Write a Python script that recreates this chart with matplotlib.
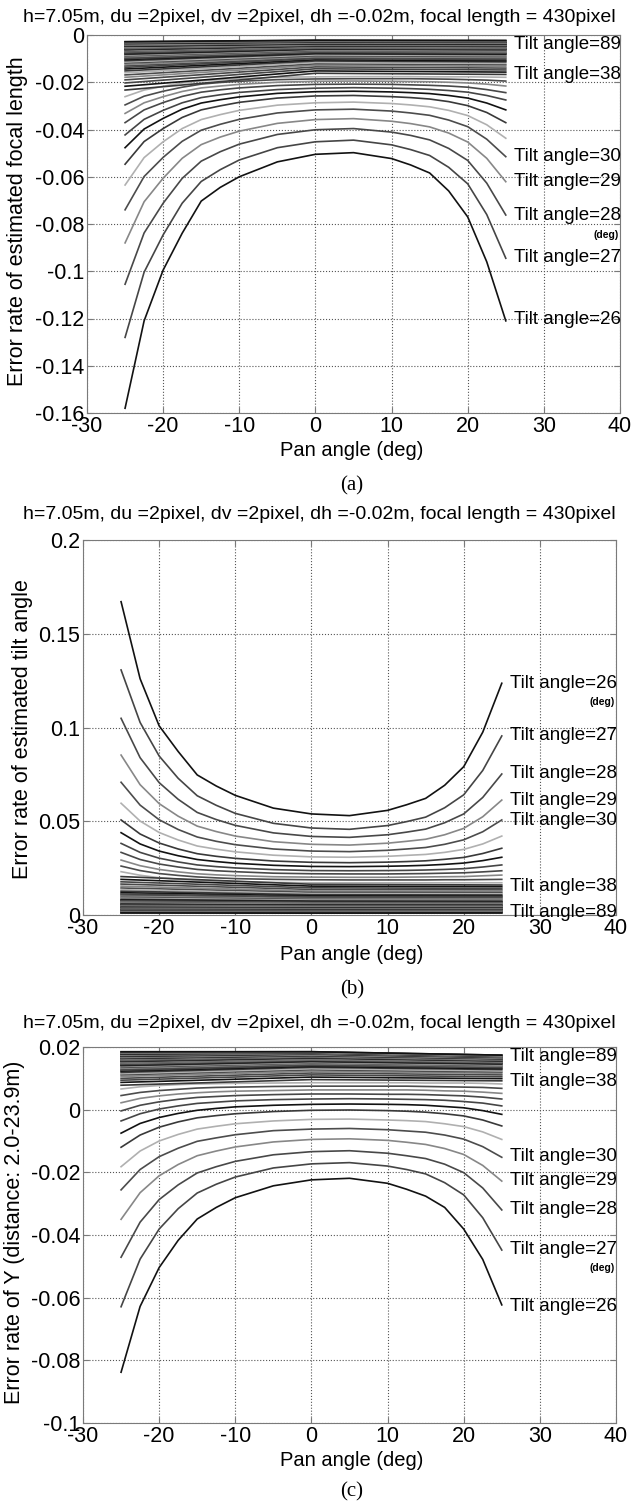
import matplotlib.pyplot as plt

plt.rcParams['font.family'] = ['Liberation Sans', 'DejaVu Sans']
plt.rcParams['axes.unicode_minus'] = False

## pan angles sampled for the distinct curves (tilt 26..38) and for the dense band (tilt 39..89)
pan = [-25, -22.5, -20, -17.5, -15, -12.5, -10, -5, 0, 5, 10, 12.5, 15, 17.5, 20, 22.5, 25]
pan_band = [-25, 0, 25]
tilt_main = list(range(26, 39))
tilt_band = list(range(39, 90))

## (a) error rate of estimated focal length
focal_main = [
    [-0.158, -0.121, -0.0995, -0.0839, -0.0703, -0.0645, -0.0600, -0.0537, -0.0505, -0.0498, -0.0523, -0.0550, -0.0584, -0.0660, -0.0770, -0.0960, -0.1210],
    [-0.128, -0.1004, -0.0846, -0.0712, -0.0620, -0.0570, -0.0529, -0.0477, -0.0452, -0.0445, -0.0465, -0.0485, -0.0510, -0.0560, -0.0630, -0.0760, -0.0945],
    [-0.1055, -0.0838, -0.0712, -0.0607, -0.0534, -0.0494, -0.0462, -0.0421, -0.0401, -0.0396, -0.0411, -0.0425, -0.0444, -0.0480, -0.0531, -0.0627, -0.0762],
    [-0.088, -0.0706, -0.0606, -0.0522, -0.0464, -0.0432, -0.0407, -0.0374, -0.0358, -0.0354, -0.0365, -0.0375, -0.0389, -0.0415, -0.0453, -0.0522, -0.0621],
    [-0.074, -0.0599, -0.0518, -0.0450, -0.0403, -0.0378, -0.0357, -0.0330, -0.0317, -0.0314, -0.0322, -0.0330, -0.0340, -0.0360, -0.0388, -0.0441, -0.0515],
    [-0.0635, -0.0519, -0.0452, -0.0396, -0.0358, -0.0337, -0.0319, -0.0297, -0.0287, -0.0284, -0.0290, -0.0296, -0.0304, -0.0319, -0.0341, -0.0380, -0.0437],
    [-0.0547, -0.0451, -0.0396, -0.0349, -0.0317, -0.0300, -0.0285, -0.0267, -0.0258, -0.0256, -0.0261, -0.0265, -0.0271, -0.0282, -0.0299, -0.0328, -0.0371],
    [-0.0477, -0.0398, -0.0353, -0.0314, -0.0288, -0.0274, -0.0262, -0.0247, -0.0240, -0.0238, -0.0241, -0.0244, -0.0248, -0.0256, -0.0267, -0.0288, -0.0317],
    [-0.0423, -0.0357, -0.0319, -0.0287, -0.0265, -0.0253, -0.0243, -0.0231, -0.0225, -0.0223, -0.0225, -0.0227, -0.0230, -0.0235, -0.0242, -0.0256, -0.0275],
    [-0.0371, -0.0317, -0.0286, -0.0260, -0.0242, -0.0232, -0.0224, -0.0214, -0.0209, -0.0208, -0.0209, -0.0211, -0.0213, -0.0216, -0.0221, -0.0231, -0.0244],
    [-0.0332, -0.0287, -0.0261, -0.0239, -0.0224, -0.0216, -0.0209, -0.0200, -0.0196, -0.0195, -0.0196, -0.0197, -0.0198, -0.0200, -0.0203, -0.0208, -0.0216],
    [-0.0296, -0.0259, -0.0238, -0.0221, -0.0208, -0.0201, -0.0196, -0.0189, -0.0186, -0.0185, -0.0185, -0.0185, -0.0186, -0.0187, -0.0189, -0.0191, -0.0195],
    [-0.0261, -0.0233, -0.0217, -0.0203, -0.0194, -0.0189, -0.0185, -0.0179, -0.0177, -0.0176, -0.0176, -0.0176, -0.0177, -0.0177, -0.0177, -0.0178, -0.0179],
]
focal_band_left = [-0.0233, -0.0217, -0.0203, -0.0190, -0.0179, -0.0169, -0.0160, -0.0152, -0.0144, -0.0137,
                   -0.0131, -0.0125, -0.0119, -0.0114, -0.0109, -0.0104, -0.0100, -0.0096, -0.0092, -0.0088,
                   -0.0085, -0.0082, -0.0079, -0.0076, -0.0073, -0.0070, -0.0068, -0.0065, -0.0063, -0.0061,
                   -0.0059, -0.0057, -0.0055, -0.0053, -0.0051, -0.0049, -0.0047, -0.0045, -0.0044, -0.0042,
                   -0.0040, -0.0039, -0.0037, -0.0036, -0.0034, -0.0033, -0.0032, -0.0031, -0.0030, -0.0029,
                   -0.0028]
focal_band_mid = [-0.0162, -0.0152, -0.0143, -0.0135, -0.0128, -0.0122, -0.0116, -0.0110, -0.0105, -0.0100,
                  -0.0096, -0.0092, -0.0088, -0.0084, -0.0080, -0.0077, -0.0074, -0.0071, -0.0068, -0.0066,
                  -0.0063, -0.0061, -0.0059, -0.0057, -0.0055, -0.0053, -0.0051, -0.0049, -0.0048, -0.0046,
                  -0.0045, -0.0043, -0.0042, -0.0040, -0.0039, -0.0038, -0.0037, -0.0035, -0.0034, -0.0033,
                  -0.0032, -0.0031, -0.0030, -0.0029, -0.0028, -0.0027, -0.0026, -0.0025, -0.0024, -0.0023,
                  -0.0022]
focal_band_right = [-0.0167, -0.0157, -0.0148, -0.0140, -0.0133, -0.0126, -0.0120, -0.0114, -0.0109, -0.0104,
                    -0.0099, -0.0095, -0.0091, -0.0087, -0.0083, -0.0080, -0.0077, -0.0074, -0.0071, -0.0068,
                    -0.0066, -0.0063, -0.0061, -0.0059, -0.0057, -0.0055, -0.0053, -0.0051, -0.0049, -0.0048,
                    -0.0046, -0.0045, -0.0043, -0.0042, -0.0040, -0.0039, -0.0038, -0.0036, -0.0035, -0.0034,
                    -0.0033, -0.0032, -0.0031, -0.0030, -0.0029, -0.0028, -0.0027, -0.0026, -0.0025, -0.0024,
                    -0.0023]

## (b) error rate of estimated tilt angle
tilt_err_main = [
    [0.1671, 0.1260, 0.1009, 0.0872, 0.0747, 0.0688, 0.0638, 0.0570, 0.0539, 0.0530, 0.0558, 0.0588, 0.0622, 0.0692, 0.0791, 0.0975, 0.1236],
    [0.1307, 0.1027, 0.0848, 0.0729, 0.0636, 0.0585, 0.0542, 0.0489, 0.0464, 0.0457, 0.0477, 0.0498, 0.0522, 0.0572, 0.0641, 0.0771, 0.0955],
    [0.1049, 0.0839, 0.0706, 0.0617, 0.0547, 0.0509, 0.0478, 0.0438, 0.0419, 0.0414, 0.0428, 0.0442, 0.0458, 0.0492, 0.0539, 0.0627, 0.0752],
    [0.0853, 0.0695, 0.0594, 0.0527, 0.0474, 0.0445, 0.0421, 0.0391, 0.0377, 0.0373, 0.0383, 0.0393, 0.0404, 0.0428, 0.0462, 0.0524, 0.0613],
    [0.0708, 0.0586, 0.0508, 0.0456, 0.0416, 0.0393, 0.0375, 0.0352, 0.0341, 0.0338, 0.0345, 0.0352, 0.0360, 0.0377, 0.0401, 0.0444, 0.0507],
    [0.0596, 0.0501, 0.0440, 0.0400, 0.0368, 0.0351, 0.0337, 0.0319, 0.0310, 0.0308, 0.0313, 0.0318, 0.0323, 0.0334, 0.0350, 0.0379, 0.0421],
    [0.0507, 0.0432, 0.0384, 0.0352, 0.0327, 0.0313, 0.0302, 0.0288, 0.0281, 0.0279, 0.0282, 0.0285, 0.0289, 0.0297, 0.0307, 0.0328, 0.0356],
    [0.0439, 0.0379, 0.0341, 0.0316, 0.0296, 0.0285, 0.0276, 0.0265, 0.0259, 0.0258, 0.0260, 0.0262, 0.0265, 0.0270, 0.0277, 0.0290, 0.0308],
    [0.0382, 0.0334, 0.0303, 0.0283, 0.0267, 0.0258, 0.0251, 0.0242, 0.0237, 0.0236, 0.0237, 0.0238, 0.0240, 0.0243, 0.0247, 0.0256, 0.0267],
    [0.0334, 0.0296, 0.0272, 0.0256, 0.0243, 0.0236, 0.0231, 0.0223, 0.0220, 0.0219, 0.0219, 0.0220, 0.0221, 0.0223, 0.0225, 0.0230, 0.0236],
    [0.0293, 0.0263, 0.0243, 0.0230, 0.0220, 0.0214, 0.0210, 0.0204, 0.0202, 0.0201, 0.0201, 0.0202, 0.0203, 0.0204, 0.0205, 0.0209, 0.0213],
    [0.0261, 0.0237, 0.0221, 0.0211, 0.0203, 0.0198, 0.0194, 0.0190, 0.0188, 0.0187, 0.0187, 0.0187, 0.0187, 0.0188, 0.0188, 0.0189, 0.0190],
    [0.0231, 0.0212, 0.0199, 0.0191, 0.0184, 0.0181, 0.0178, 0.0174, 0.0172, 0.0172, 0.0172, 0.0172, 0.0172, 0.0172, 0.0172, 0.0172, 0.0172],
]
tilt_err_band_left = [0.0205, 0.0190, 0.0177, 0.0165, 0.0154, 0.0144, 0.0135, 0.0127, 0.0119, 0.0112,
                      0.0106, 0.0100, 0.0094, 0.0089, 0.0084, 0.0080, 0.0076, 0.0072, 0.0068, 0.0065,
                      0.0062, 0.0059, 0.0056, 0.0053, 0.0051, 0.0048, 0.0046, 0.0044, 0.0042, 0.0040,
                      0.0038, 0.0036, 0.0034, 0.0033, 0.0031, 0.0030, 0.0028, 0.0027, 0.0025, 0.0024,
                      0.0023, 0.0021, 0.0020, 0.0019, 0.0018, 0.0017, 0.0015, 0.0014, 0.0013, 0.0012,
                      0.0011]
tilt_err_band_mid = [0.0164, 0.0154, 0.0145, 0.0136, 0.0128, 0.0121, 0.0114, 0.0108, 0.0102, 0.0097,
                     0.0092, 0.0087, 0.0083, 0.0079, 0.0075, 0.0071, 0.0068, 0.0065, 0.0062, 0.0059,
                     0.0056, 0.0054, 0.0051, 0.0049, 0.0047, 0.0045, 0.0043, 0.0041, 0.0039, 0.0037,
                     0.0035, 0.0034, 0.0032, 0.0031, 0.0029, 0.0028, 0.0026, 0.0025, 0.0024, 0.0022,
                     0.0021, 0.0020, 0.0019, 0.0018, 0.0017, 0.0016, 0.0014, 0.0013, 0.0012, 0.0011,
                     0.0010]
tilt_err_band_right = [0.0160, 0.0151, 0.0142, 0.0134, 0.0126, 0.0119, 0.0113, 0.0107, 0.0101, 0.0096,
                       0.0091, 0.0086, 0.0082, 0.0078, 0.0074, 0.0071, 0.0067, 0.0064, 0.0061, 0.0058,
                       0.0056, 0.0053, 0.0051, 0.0049, 0.0047, 0.0045, 0.0043, 0.0041, 0.0039, 0.0037,
                       0.0035, 0.0034, 0.0032, 0.0031, 0.0029, 0.0028, 0.0027, 0.0025, 0.0024, 0.0023,
                       0.0022, 0.0021, 0.0019, 0.0018, 0.0017, 0.0016, 0.0015, 0.0014, 0.0013, 0.0012,
                       0.0011]

## (c) error rate of Y
y_err_main = [
    [-0.0838, -0.0628, -0.0504, -0.0417, -0.0349, -0.0312, -0.0281, -0.0243, -0.0224, -0.0219, -0.0235, -0.0254, -0.0276, -0.0312, -0.0381, -0.0478, -0.0623],
    [-0.0629, -0.0477, -0.0381, -0.0316, -0.0266, -0.0238, -0.0215, -0.0186, -0.0173, -0.0169, -0.0180, -0.0191, -0.0205, -0.0233, -0.0272, -0.0345, -0.0448],
    [-0.0471, -0.0359, -0.0287, -0.0240, -0.0202, -0.0182, -0.0165, -0.0144, -0.0134, -0.0131, -0.0139, -0.0147, -0.0156, -0.0174, -0.0201, -0.0250, -0.0320],
    [-0.0350, -0.0265, -0.0211, -0.0175, -0.0147, -0.0132, -0.0119, -0.0103, -0.0095, -0.0093, -0.0098, -0.0104, -0.0111, -0.0124, -0.0143, -0.0178, -0.0228],
    [-0.0256, -0.0191, -0.0150, -0.0123, -0.0101, -0.0090, -0.0080, -0.0067, -0.0062, -0.0060, -0.0064, -0.0068, -0.0072, -0.0081, -0.0094, -0.0118, -0.0152],
    [-0.0182, -0.0132, -0.0100, -0.0079, -0.0062, -0.0053, -0.0045, -0.0036, -0.0031, -0.0030, -0.0033, -0.0035, -0.0038, -0.0045, -0.0054, -0.0071, -0.0095],
    [-0.0120, -0.0081, -0.0056, -0.0039, -0.0026, -0.0019, -0.0013, -0.0006, -0.0002, -0.0001, -0.0003, -0.0005, -0.0008, -0.0013, -0.0020, -0.0033, -0.0052],
    [-0.0075, -0.0044, -0.0025, -0.0012, -0.0002, 0.0004, 0.0009, 0.0014, 0.0017, 0.0018, 0.0017, 0.0016, 0.0014, 0.0010, 0.0006, -0.0003, -0.0015],
    [-0.0036, -0.0013, 0.0002, 0.0012, 0.0020, 0.0024, 0.0028, 0.0032, 0.0034, 0.0035, 0.0034, 0.0033, 0.0032, 0.0030, 0.0026, 0.0021, 0.0012],
    [-0.0004, 0.0014, 0.0025, 0.0033, 0.0039, 0.0042, 0.0045, 0.0048, 0.0050, 0.0050, 0.0049, 0.0049, 0.0048, 0.0046, 0.0044, 0.0040, 0.0034],
    [0.0022, 0.0036, 0.0044, 0.0050, 0.0054, 0.0057, 0.0059, 0.0061, 0.0063, 0.0063, 0.0063, 0.0063, 0.0062, 0.0060, 0.0059, 0.0056, 0.0052],
    [0.0045, 0.0055, 0.0061, 0.0065, 0.0069, 0.0071, 0.0072, 0.0074, 0.0075, 0.0075, 0.0075, 0.0075, 0.0074, 0.0073, 0.0072, 0.0071, 0.0068],
    [0.0066, 0.0073, 0.0077, 0.0080, 0.0082, 0.0083, 0.0084, 0.0085, 0.0086, 0.0086, 0.0086, 0.0086, 0.0085, 0.0085, 0.0085, 0.0084, 0.0082],
]
y_err_band_left = [0.0078, 0.0087, 0.0094, 0.0100, 0.0106, 0.0111, 0.0115, 0.0119, 0.0123, 0.0126,
                   0.0129, 0.0132, 0.0135, 0.0138, 0.0140, 0.0142, 0.0144, 0.0146, 0.0148, 0.0150,
                   0.0152, 0.0153, 0.0155, 0.0156, 0.0158, 0.0159, 0.0160, 0.0162, 0.0163, 0.0164,
                   0.0165, 0.0166, 0.0167, 0.0168, 0.0169, 0.0170, 0.0171, 0.0172, 0.0173, 0.0174,
                   0.0175, 0.0176, 0.0177, 0.0178, 0.0179, 0.0180, 0.0181, 0.0182, 0.0183, 0.0184,
                   0.0185]
y_err_band_mid = [0.0096, 0.0104, 0.0111, 0.0117, 0.0122, 0.0127, 0.0131, 0.0135, 0.0138, 0.0141,
                  0.0144, 0.0147, 0.0149, 0.0151, 0.0153, 0.0155, 0.0157, 0.0159, 0.0160, 0.0162,
                  0.0163, 0.0164, 0.0166, 0.0167, 0.0168, 0.0169, 0.0170, 0.0171, 0.0172, 0.0173,
                  0.0173, 0.0174, 0.0175, 0.0176, 0.0176, 0.0177, 0.0178, 0.0178, 0.0179, 0.0180,
                  0.0180, 0.0181, 0.0181, 0.0182, 0.0182, 0.0183, 0.0183, 0.0184, 0.0184, 0.0185,
                  0.0185]
y_err_band_right = [0.0092, 0.0099, 0.0105, 0.0111, 0.0116, 0.0120, 0.0124, 0.0128, 0.0131, 0.0134,
                    0.0137, 0.0139, 0.0141, 0.0143, 0.0145, 0.0147, 0.0149, 0.0150, 0.0152, 0.0153,
                    0.0154, 0.0155, 0.0156, 0.0157, 0.0158, 0.0159, 0.0160, 0.0161, 0.0162, 0.0163,
                    0.0163, 0.0164, 0.0165, 0.0165, 0.0166, 0.0167, 0.0167, 0.0168, 0.0168, 0.0169,
                    0.0169, 0.0170, 0.0170, 0.0171, 0.0171, 0.0172, 0.0172, 0.0173, 0.0173, 0.0174,
                    0.0174]

## right-hand labels: (tilt, y position) and position of the small "(deg)"
labels_a = [(89, -0.0042), (38, -0.0169), (30, -0.0515), (29, -0.0621), (28, -0.0766), (27, -0.0943), (26, -0.1206)]
deg_a = -0.0847
labels_b = [(26, 0.1236), (27, 0.0955), (28, 0.0752), (29, 0.0613), (30, 0.0503), (38, 0.0151), (89, 0.0012)]
deg_b = 0.1138
labels_c = [(89, 0.0169), (38, 0.0091), (30, -0.0150), (29, -0.0227), (28, -0.0320), (27, -0.0446), (26, -0.0627)]
deg_c = -0.0506

yticks_a = [-0.16, -0.14, -0.12, -0.1, -0.08, -0.06, -0.04, -0.02, 0]
yticks_b = [0, 0.05, 0.1, 0.15, 0.2]
yticks_c = [-0.1, -0.08, -0.06, -0.04, -0.02, 0, 0.02]
xticks = [-30, -20, -10, 0, 10, 20, 30, 40]

title = 'h=7.05m, du =2pixel, dv =2pixel, dh =-0.02m, focal length = 430pixel'

# matlab colour order seen in grayscale
grays = ['#121212', '#454545', '#484848', '#878787', '#4c4c4c', '#b0b0b0', '#393939']


def draw(ax, main, b_left, b_mid, b_right, labels, deg_y, yticks):
    for i, ys in enumerate(main):
        ax.plot(pan, ys, color=grays[i % 7], lw=1.2)
    for j in range(len(b_left)):
        ax.plot(pan_band, [b_left[j], b_mid[j], b_right[j]],
                color=grays[(j + len(main)) % 7], lw=1.2)
    ax.set_xlim(-30, 40)
    ax.set_ylim(yticks[0], yticks[-1])
    ax.set_xticks(xticks)
    ax.set_xticklabels([str(t) for t in xticks])
    ax.set_yticks(yticks)
    ax.set_yticklabels(['%g' % t for t in yticks])
    ax.grid(True, linestyle=':', color='#555555', lw=0.8)
    for sp in ax.spines.values():
        sp.set_color('#7a7a7a')
    ax.tick_params(direction='in', length=4, color='#7a7a7a', labelsize=15.5,
                   top=True, right=True, pad=2)
    for t, yv in labels:
        ax.text(26.1, yv, 'Tilt angle=%d' % t, fontsize=13.5, va='center', ha='left')
    ax.text(39.8, deg_y, '(deg)', fontsize=7.5, fontweight='bold', va='center', ha='right')


fig = plt.figure(figsize=(6.33, 15.06), dpi=100)

ax1 = fig.add_axes([87/633, 1-413/1506, 533/633, 378/1506])
draw(ax1, focal_main, focal_band_left, focal_band_mid, focal_band_right, labels_a, deg_a, yticks_a)
ax2 = fig.add_axes([83/633, 1-915/1506, 533/633, 375/1506])
draw(ax2, tilt_err_main, tilt_err_band_left, tilt_err_band_mid, tilt_err_band_right, labels_b, deg_b, yticks_b)
ax3 = fig.add_axes([83/633, 1-1423/1506, 533/633, 376/1506])
draw(ax3, y_err_main, y_err_band_left, y_err_band_mid, y_err_band_right, labels_c, deg_c, yticks_c)

# titles, axis labels and sub-captions
for ty in [17, 515, 1023]:
    fig.text(0.505, 1-ty/1506, title, fontsize=14, ha='center', va='center')
for xl in [450, 955, 1460]:
    fig.text(352/633, 1-xl/1506, 'Pan angle (deg)', fontsize=14.5, ha='center', va='center')
for cap, cy in [('(a)', 486), ('(b)', 990), ('(c)', 1492)]:
    fig.text(352/633, 1-cy/1506, cap, fontsize=15, ha='center', va='center', family='Liberation Serif')
fig.text(18/633, 1-221/1506, 'Error rate of estimated focal length', fontsize=15.5,
         rotation=90, ha='center', va='center')
fig.text(23/633, 1-729/1506, 'Error rate of estimated tilt angle', fontsize=15.5,
         rotation=90, ha='center', va='center')
fig.text(15/633, 1-1232/1506, 'Error rate of Y (distance: 2.0-23.9m)', fontsize=15.5,
         rotation=90, ha='center', va='center')

fig.savefig('out.png', dpi=100)
